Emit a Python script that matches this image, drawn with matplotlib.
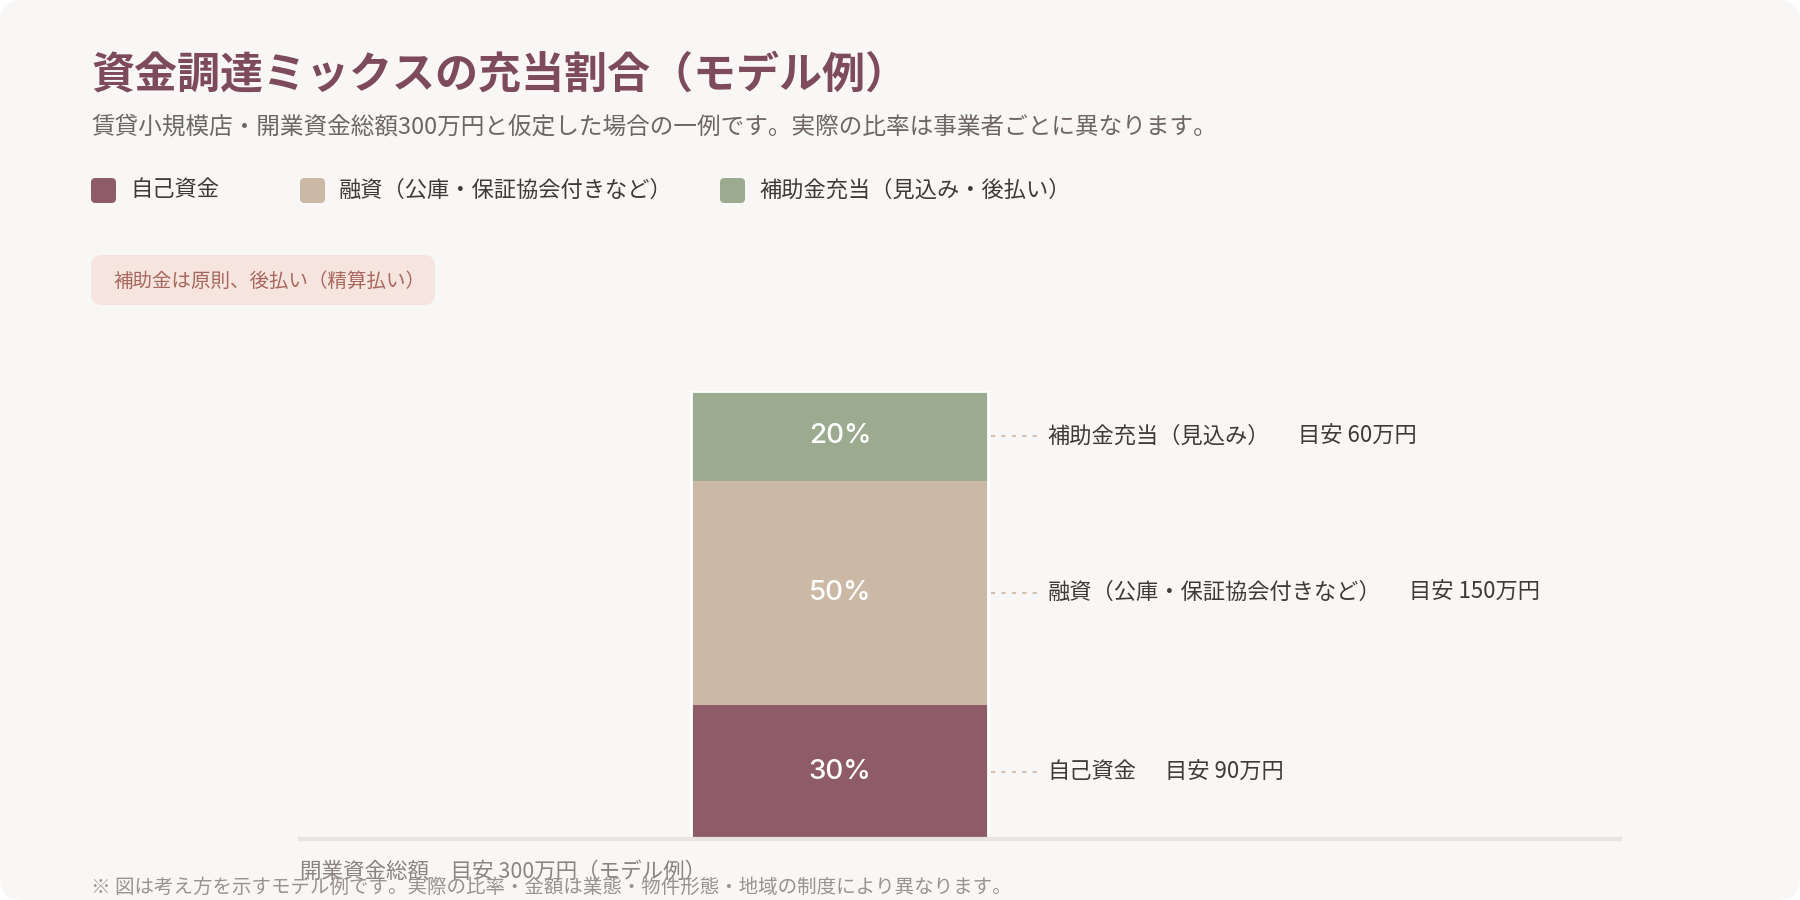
import matplotlib.pyplot as plt
from matplotlib.patches import FancyBboxPatch

plt.rcParams['font.family'] = ['Noto Sans CJK JP', 'DejaVu Sans']

# data
categories = ['自己資金', '融資（公庫・保証協会付きなど）', '補助金充当（見込み）']
legend_labels = ['自己資金', '融資（公庫・保証協会付きなど）', '補助金充当（見込み・後払い）']
shares = [30, 50, 20]
amounts = ['目安 90万円', '目安 150万円', '目安 60万円']
colors = ['#8e5c68', '#cbb8a5', '#9caa8f']

title = '資金調達ミックスの充当割合（モデル例）'
subtitle = '賃貸小規模店・開業資金総額300万円と仮定した場合の一例です。実際の比率は事業者ごとに異なります。'
badge = '補助金は原則、後払い（精算払い）'
xlabel = '開業資金総額　目安 300万円（モデル例）'
footnote = '※ 図は考え方を示すモデル例です。実際の比率・金額は業態・物件形態・地域の制度により異なります。'

W, H = 1800, 900
fig = plt.figure(figsize=(18, 9), dpi=100)
fig.patch.set_facecolor('white')

def fx(px):
    return px / W

def fy(py):
    return 1 - py / H

# card background (behind the axes)
card = FancyBboxPatch((0, 0), 1, 1, boxstyle='round,pad=0,rounding_size=0.012',
                      transform=fig.transFigure, facecolor='#f8f7f6', edgecolor='none',
                      mutation_aspect=2, zorder=-10)
fig.patches.append(card)

fig.text(fx(91), fy(75), title, fontsize=31, fontweight='bold', color='#7d4b5b', va='center')
fig.text(fx(91), fy(127), subtitle, fontsize=17, color='#6e6662', va='center')

# legend
leg_x = [91, 300, 720]
for lx, lab, c in zip(leg_x, legend_labels, colors):
    fig.patches.append(FancyBboxPatch((fx(lx), fy(203)), fx(25), 25 / H,
                                      boxstyle='round,pad=0,rounding_size=0.0025',
                                      transform=fig.transFigure, facecolor=c, edgecolor='none',
                                      mutation_aspect=2))
    fig.text(fx(lx + 39), fy(190), lab, fontsize=16, color='#3f3a38', va='center')

# badge
fig.patches.append(FancyBboxPatch((fx(91), fy(305)), fx(344), 50 / H,
                                  boxstyle='round,pad=0,rounding_size=0.006',
                                  transform=fig.transFigure, facecolor='#f6e4de', edgecolor='none',
                                  mutation_aspect=2))
fig.text(fx(269), fy(281), badge, fontsize=14, color='#a8675e', va='center', ha='center')

# stacked bar
ax = fig.add_axes([fx(300), fy(839), fx(1320), (839 - 391) / H])
ax.set_xlim(0, 1)
ax.set_ylim(0, 100)
ax.axis('off')

bx, bw = 0.409, 0.225
bottom = 0
for cat, s, amt, c in zip(categories, shares, amounts, colors):
    ax.bar(bx, s, width=bw, bottom=bottom, color=c, linewidth=0, zorder=2)
    mid = bottom + s / 2
    ax.text(bx, mid, f'{s}%', color='white', fontsize=20, ha='center', va='center',
            family=['Inter', 'DejaVu Sans'], fontweight='medium', zorder=4)
    x0 = bx + bw / 2
    ax.plot([x0 + 0.002, x0 + 0.037], [mid, mid], color='#d4c0ac', lw=1.5,
            linestyle=(0, (2, 3)), zorder=1)
    t = ax.text(x0 + 0.045, mid, cat, fontsize=16, color='#3f3a38', va='center')
    ax.annotate(amt, xy=(1, 0.5), xycoords=t, xytext=(20, 0), textcoords='offset points',
                fontsize=16, color='#3f3a38', va='center')
    bottom += s

# white outline round the whole stack
ax.bar(bx, sum(shares), width=bw, fill=False, edgecolor='white', linewidth=2, zorder=3)

ax.axhline(0, color='#e9e4df', lw=3, zorder=3, clip_on=False)

fig.text(fx(300), fy(872), xlabel, fontsize=15.5, color='#8a8380', va='center')
fig.text(fx(91), fy(887), footnote, fontsize=14, color='#9a928e', va='center')

fig.savefig('out.png', dpi=100, facecolor=fig.get_facecolor())
